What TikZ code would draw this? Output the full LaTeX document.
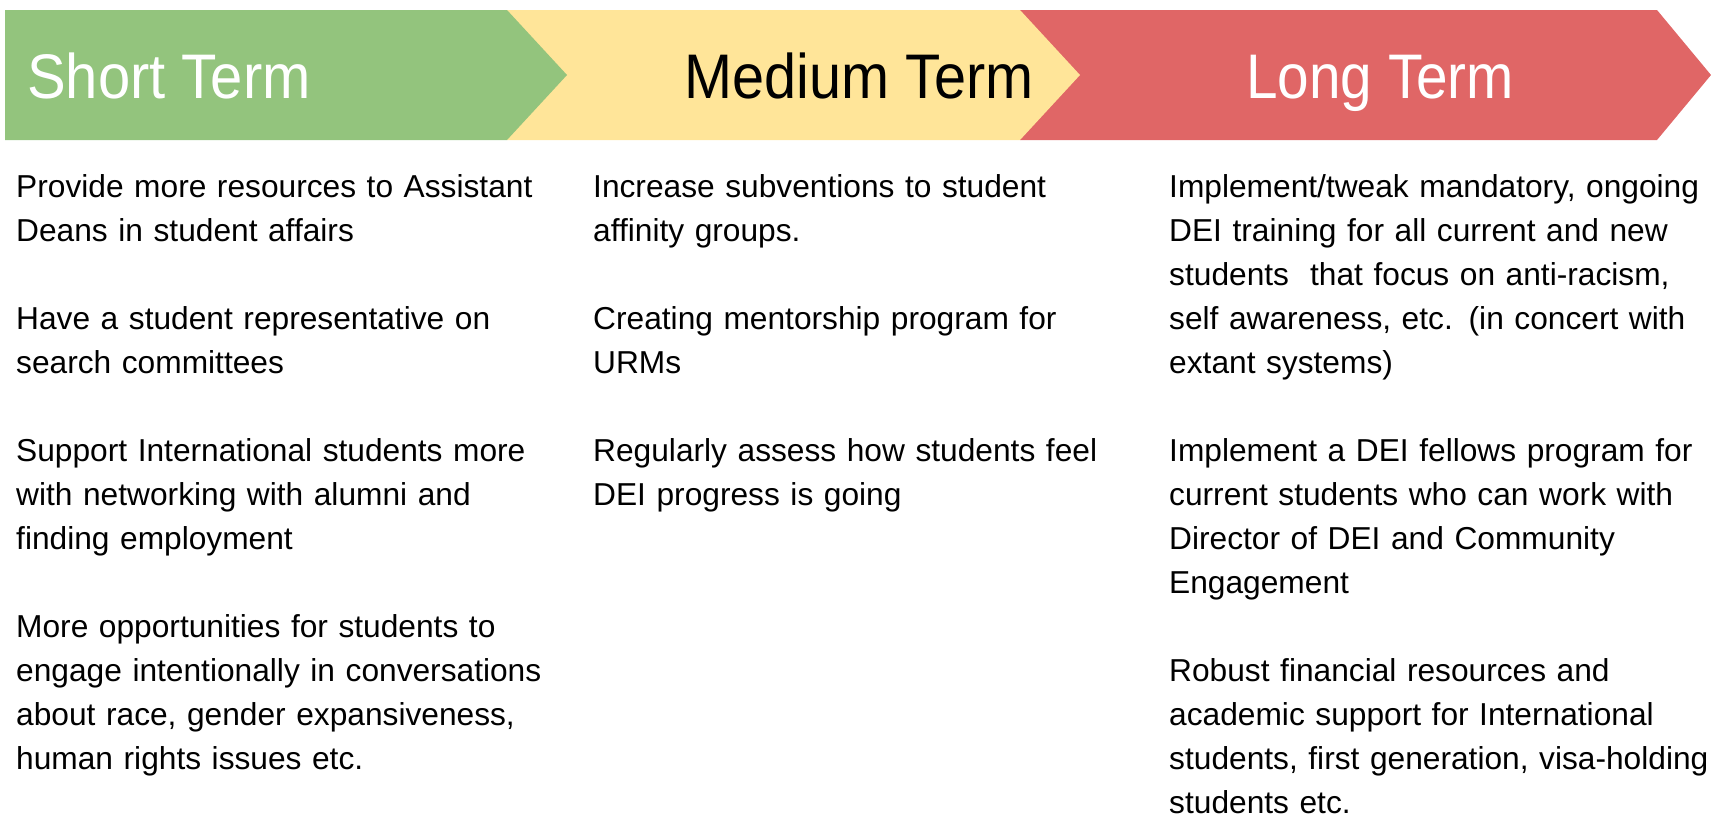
\documentclass[tikz,border=0pt]{standalone}
\usepackage{fontspec}
\setmainfont{Liberation Sans}
\usetikzlibrary{positioning}
\definecolor{shortgreen}{HTML}{93C47D}
\definecolor{mediumyellow}{HTML}{FFE599}
\definecolor{longred}{HTML}{E06666}

\begin{document}
\begin{tikzpicture}[x=1pt, y=-1pt,
    term/.style={anchor=base west, inner sep=0pt, font=\fontsize{63}{70}\selectfont},
    items/.style={anchor=base west, inner sep=0pt, text width=545pt, align=left,
        font=\fontsize{31.7}{44}\selectfont}]

    \useasboundingbox (0,0) rectangle (1711,817);

    % chevrons, back to front
    \fill[longred] (1020,10) -- (1657,10) -- (1711,75) -- (1657,140) -- (1020,140) -- cycle;
    \fill[mediumyellow] (507,10) -- (1020,10) -- (1080,75) -- (1020,140) -- (507,140) -- cycle;
    \fill[shortgreen] (5,10) -- (507,10) -- (567,75) -- (507,140) -- (5,140) -- cycle;

    \node[term, text=white] (short) at (27,98) {\scalebox{0.92}[1]{Short Term}};
    \node[term] (medium) at (684,98) {\scalebox{0.915}[1]{Medium Term}};
    \node[term, text=white] (long) at (1246,98) {\scalebox{0.9}[1]{Long Term}};

    \node[items] (shortlist) at (16,197) {Provide more resources to Assistant\\
        Deans in student affairs\\[44pt]
        Have a student representative on\\
        search committees\\[44pt]
        Support International students more\\
        with networking with alumni and\\
        finding employment\\[44pt]
        More opportunities for students to\\
        engage intentionally in conversations\\
        about race, gender expansiveness,\\
        human rights issues etc.};

    \node[items] (mediumlist) at (593,197) {Increase subventions to student\\
        affinity groups.\\[44pt]
        Creating mentorship program for\\
        URMs\\[44pt]
        Regularly assess how students feel\\
        DEI progress is going};

    \node[items] (longlist) at (1169,197) {Implement/tweak mandatory, ongoing\\
        DEI training for all current and new\\
        students\ \ that focus on anti-racism,\\
        self awareness, etc. (in concert with\\
        extant systems)\\[44pt]
        Implement a DEI fellows program for\\
        current students who can work with\\
        Director of DEI and Community\\
        Engagement\\[44pt]
        Robust financial resources and\\
        academic support for International\\
        students, first generation, visa-holding\\
        students etc.};

\end{tikzpicture}
\end{document}
